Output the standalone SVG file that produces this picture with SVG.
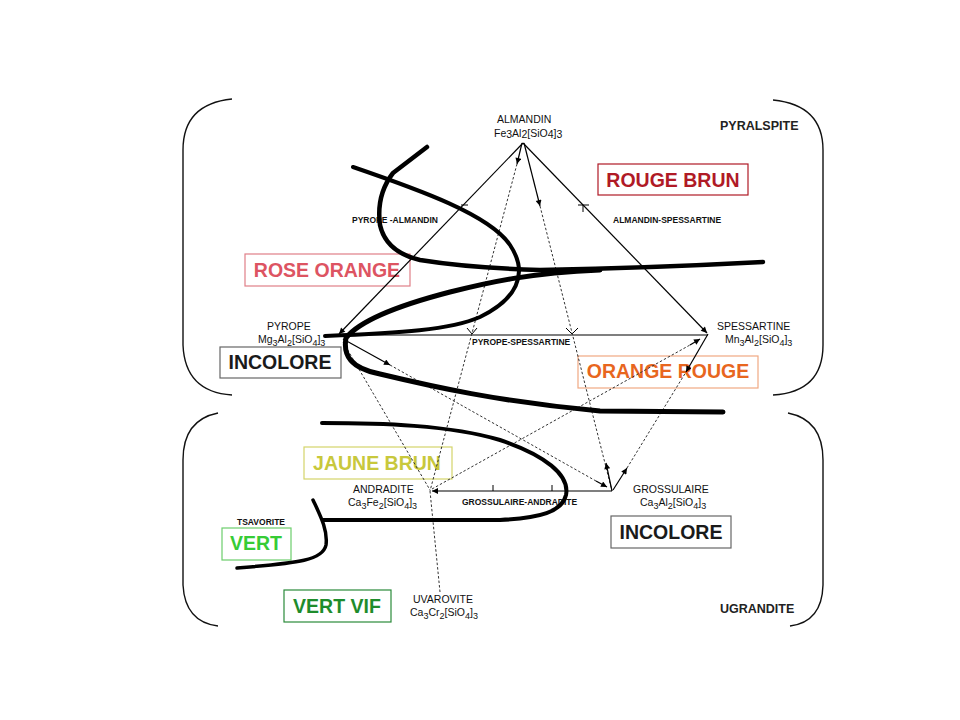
<svg xmlns="http://www.w3.org/2000/svg" width="960" height="720" viewBox="0 0 960 720">
<defs>
<marker id="ah" viewBox="0 0 10 10" refX="10" refY="5" markerWidth="8" markerHeight="6" markerUnits="userSpaceOnUse" orient="auto"><path d="M0,0 L10,5 L0,10 Z" fill="#000"/></marker>
<style>
text{font-family:"Liberation Sans",Arial,sans-serif;fill:#111}
.lbl{font-size:10.5px}
.sub{font-size:9px}
.sm{font-size:8.5px;font-weight:bold}
.grp{font-size:12.5px;font-weight:bold;fill:#222}
.big{font-size:19.5px;font-weight:bold;text-anchor:middle}
.box{fill:none;stroke-width:1.2}
.brk{fill:none;stroke:#111;stroke-width:1.4}
.thick{fill:none;stroke:#000;stroke-linecap:round;stroke-linejoin:round}
.sol{stroke:#000;stroke-width:1.2;fill:none}
.dot{stroke:#333;stroke-width:1;stroke-dasharray:2.5 2;fill:none}
.tick{stroke:#000;stroke-width:1;fill:none}
</style>
</defs>
<rect width="960" height="720" fill="#fff"/>

<g id="brackets">
<path class="brk" d="M232,99 Q183,104 183,150 L183,345 Q185,392 232,395"/>
<path class="brk" d="M773,100 Q823,105 823,150 L823,345 Q823,392 773,395"/>
<path class="brk" d="M218,413 Q183,420 183,460 L183,585 Q185,622 218,626"/>
<path class="brk" d="M788,413 Q823,420 823,460 L823,585 Q822,622 790,626"/>
</g>

<g id="group-labels">
<text class="grp" x="720" y="130">PYRALSPITE</text>
<text class="grp" x="720" y="613">UGRANDITE</text>
</g>

<g id="color-boxes">
<g id="rouge-brun"><rect class="box" x="598" y="164" width="150" height="31" stroke="#b01a26"/><text class="big" x="673" y="187" style="fill:#b01a26">ROUGE BRUN</text></g>
<g id="rose-orange"><rect class="box" x="245" y="254" width="165" height="32" stroke="#e07f88"/><text class="big" x="327" y="277" style="fill:#dd5462">ROSE ORANGE</text></g>
<g id="incolore-1"><rect class="box" x="220" y="347" width="121" height="31" stroke="#666"/><text class="big" x="280" y="369" style="fill:#1a1a1a">INCOLORE</text></g>
<g id="orange-rouge"><rect class="box" x="578" y="356" width="180" height="32" stroke="#f0a882"/><text class="big" x="668" y="378" style="fill:#e8661e">ORANGE ROUGE</text></g>
<g id="jaune-brun"><rect class="box" x="304" y="447" width="148" height="32" stroke="#d4d46a"/><text class="big" x="377" y="470" style="fill:#c8c83c">JAUNE BRUN</text></g>
<g id="incolore-2"><rect class="box" x="611" y="516" width="120" height="32" stroke="#666"/><text class="big" x="671" y="539" style="fill:#1a1a1a">INCOLORE</text></g>
<g id="vert"><rect class="box" x="222" y="528" width="69" height="32" stroke="#6cce6c"/><text class="big" x="256" y="550" style="fill:#36cc36">VERT</text></g>
<g id="vert-vif"><rect class="box" x="284" y="590" width="107" height="32" stroke="#2a8a3a"/><text class="big" x="337" y="613" style="fill:#1e8c2c">VERT VIF</text></g>
</g>

<g id="connectors">
<line class="sol" x1="523" y1="143" x2="339" y2="334" marker-end="url(#ah)"/>
<line class="sol" x1="523" y1="143" x2="707" y2="333" marker-end="url(#ah)"/>
<line class="sol" x1="340" y1="335" x2="708" y2="335"/>
<line class="sol" x1="612" y1="491" x2="432" y2="491" marker-end="url(#ah)"/>
<path class="tick" d="M461,205 H468 M578,205 H589 M583,205 V212 M493,485 V491 M552,485 V491"/>
<path class="tick" d="M467,328 L472,334 L477,328 M566,328 L572,334 L578,328"/>
<line class="sol" x1="522" y1="143" x2="517" y2="164" marker-end="url(#ah)"/>
<line class="dot" x1="517" y1="164" x2="430" y2="491"/>
<line class="sol" x1="524" y1="143" x2="540" y2="206" stroke-width="1.5" marker-end="url(#ah)"/>
<line class="dot" x1="540" y1="206" x2="612" y2="491"/>
<line class="sol" x1="612" y1="491" x2="606" y2="463" marker-end="url(#ah)"/>
<line class="sol" x1="343" y1="339" x2="390" y2="365" marker-end="url(#ah)"/>
<line class="dot" x1="390" y1="365" x2="596" y2="481"/>
<line class="sol" x1="596" y1="481" x2="607" y2="487" marker-end="url(#ah)"/>
<line class="dot" x1="343" y1="342" x2="430" y2="490"/>
<line class="dot" x1="432" y1="489" x2="690" y2="345"/>
<line class="sol" x1="690" y1="345" x2="700" y2="339" marker-end="url(#ah)"/>
<line class="sol" x1="613" y1="490" x2="627" y2="468" marker-end="url(#ah)"/>
<line class="dot" x1="627" y1="468" x2="686" y2="372"/>
<line class="sol" x1="708" y1="334" x2="686" y2="372" marker-end="url(#ah)"/>
<line class="dot" x1="430" y1="491" x2="440" y2="592"/>
</g>

<g id="mineral-labels">
<g id="almandin"><text class="lbl" x="497" y="123">ALMANDIN</text><text class="lbl" x="494" y="137">Fe<tspan dy="1">3</tspan><tspan dy="-1">Al</tspan><tspan dy="1">2</tspan><tspan dy="-1">[SiO</tspan><tspan dy="1">4</tspan><tspan dy="-1">]</tspan><tspan dy="1">3</tspan></text></g>
<g id="pyrope"><text class="lbl" x="267" y="330">PYROPE</text><text class="lbl" x="258" y="343">Mg<tspan class="sub" dy="3">3</tspan><tspan dy="-3">Al</tspan><tspan class="sub" dy="3">2</tspan><tspan dy="-3">[SiO</tspan><tspan class="sub" dy="3">4</tspan><tspan dy="-3">]</tspan><tspan class="sub" dy="3">3</tspan></text></g>
<g id="spessartine"><text class="lbl" x="717" y="330">SPESSARTINE</text><text class="lbl" x="725" y="343">Mn<tspan class="sub" dy="3">3</tspan><tspan dy="-3">Al</tspan><tspan class="sub" dy="3">2</tspan><tspan dy="-3">[SiO</tspan><tspan class="sub" dy="3">4</tspan><tspan dy="-3">]</tspan><tspan class="sub" dy="3">3</tspan></text></g>
<g id="andradite"><text class="lbl" x="353" y="493">ANDRADITE</text><text class="lbl" x="348" y="506">Ca<tspan class="sub" dy="3">3</tspan><tspan dy="-3">Fe</tspan><tspan class="sub" dy="3">2</tspan><tspan dy="-3">[SiO</tspan><tspan class="sub" dy="3">4</tspan><tspan dy="-3">]</tspan><tspan class="sub" dy="3">3</tspan></text></g>
<g id="grossulaire"><text class="lbl" x="633" y="493">GROSSULAIRE</text><text class="lbl" x="640" y="506">Ca<tspan class="sub" dy="3">3</tspan><tspan dy="-3">Al</tspan><tspan class="sub" dy="3">2</tspan><tspan dy="-3">[SiO</tspan><tspan class="sub" dy="3">4</tspan><tspan dy="-3">]</tspan><tspan class="sub" dy="3">3</tspan></text></g>
<g id="uvarovite"><text class="lbl" x="413" y="603">UVAROVITE</text><text class="lbl" x="410" y="616">Ca<tspan class="sub" dy="3">3</tspan><tspan dy="-3">Cr</tspan><tspan class="sub" dy="3">2</tspan><tspan dy="-3">[SiO</tspan><tspan class="sub" dy="3">4</tspan><tspan dy="-3">]</tspan><tspan class="sub" dy="3">3</tspan></text></g>
<text class="sm" x="352" y="223">PYROPE -ALMANDIN</text>
<text class="sm" x="613" y="223">ALMANDIN-SPESSARTINE</text>
<text class="sm" x="472" y="345">PYROPE-SPESSARTINE</text>
<text class="sm" x="462" y="505">GROSSULAIRE-ANDRADITE</text>
<text class="sm" x="237" y="525">TSAVORITE</text>
</g>

<g id="boundaries">
<path class="thick" stroke-width="4.5" d="M427,147 L393,173 Q376,195 380,225 Q386,252 420,260 Q470,268 540,270 Q650,268 763,262"/>
<path class="thick" stroke-width="4" d="M353,167 C420,190 490,215 510,245 C530,275 515,300 480,317 C450,330 400,333 325,336"/>
<path class="thick" stroke-width="5" d="M600,270 C530,273 490,282 450,292 C400,305 360,320 346,338 C343,355 350,368 380,374 C430,386 500,402 600,411 L723,412"/>
<path class="thick" stroke-width="4" d="M322,423 C380,423 450,425 500,440 C545,455 570,475 566,495 C562,512 540,518 500,520 L323,520"/>
<path class="thick" stroke-width="3.5" d="M313,500 C320,515 328,530 326,545 C323,560 300,563 237,568"/>
</g>
</svg>
